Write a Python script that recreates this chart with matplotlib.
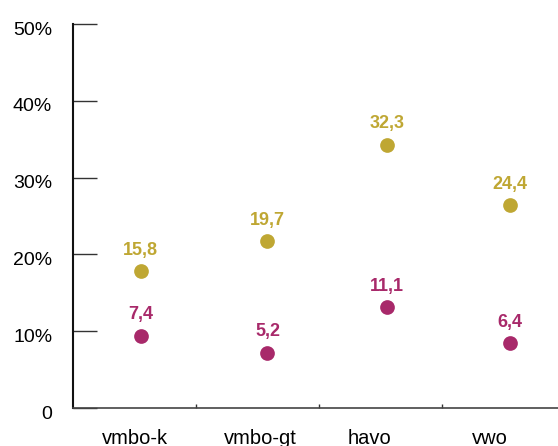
import matplotlib.pyplot as plt
from matplotlib.transforms import ScaledTranslation

plt.rcParams['font.family'] = ['Liberation Sans', 'DejaVu Sans']

categories = ['vmbo-k', 'vmbo-gt', 'havo', 'vwo']
gold_values = [15.8, 19.7, 32.3, 24.4]
magenta_values = [7.4, 5.2, 11.1, 6.4]
y_ticks = [0, 10, 20, 30, 40, 50]
y_tick_labels = ['0', '10%', '20%', '30%', '40%', '50%']

GOLD = '#BFA733'
MAGENTA = '#A8296A'
OFFSET = 2          # the dots sit 2 points above their value in the original
point_x = [0.55, 1.58, 2.55, 3.55]
label_x = [0.5, 1.52, 2.41, 3.39]

fig = plt.figure(figsize=(5.58, 4.46), dpi=100)
ax = fig.add_axes([0.1308, 0.0852, 0.8692, 0.8610])

for values, color in [(gold_values, GOLD), (magenta_values, MAGENTA)]:
    ys = [v + OFFSET for v in values]
    ax.scatter(point_x, ys, s=112, color=color, zorder=3, linewidths=0)
    for x, y, v in zip(point_x, ys, values):
        ax.annotate(f'{v:.1f}'.replace('.', ','), (x, y), xytext=(0, 12),
                    textcoords='offset points', ha='center', va='baseline',
                    color=color, fontsize=13, fontweight='bold')

ax.set_xlim(0, 3.94)
ax.set_ylim(0, 50)

ax.set_yticks(y_ticks)
ax.set_yticklabels(y_tick_labels)
ax.tick_params(axis='y', direction='in', length=17.5, width=1, color='#333333',
               pad=15, labelsize=14)
# labels sit a few pixels below their ticks in the original
shift = ScaledTranslation(0, -3 / 72, fig.dpi_scale_trans)
for lab in ax.get_yticklabels():
    lab.set_transform(lab.get_transform() + shift)

ax.set_xticks(label_x)
ax.set_xticklabels(categories)
ax.set_xticks([1, 2, 3], minor=True)
ax.tick_params(axis='x', which='major', length=0, pad=15, labelsize=14.5)
ax.tick_params(axis='x', which='minor', direction='in', length=3, width=1,
               color='#333333')

for side in ['top', 'right']:
    ax.spines[side].set_visible(False)
ax.spines['left'].set_linewidth(1.5)
ax.spines['left'].set_color('#111111')
ax.spines['bottom'].set_linewidth(1.2)
ax.spines['bottom'].set_color('#444444')

plt.savefig('out.png', dpi=100)
plt.close()
